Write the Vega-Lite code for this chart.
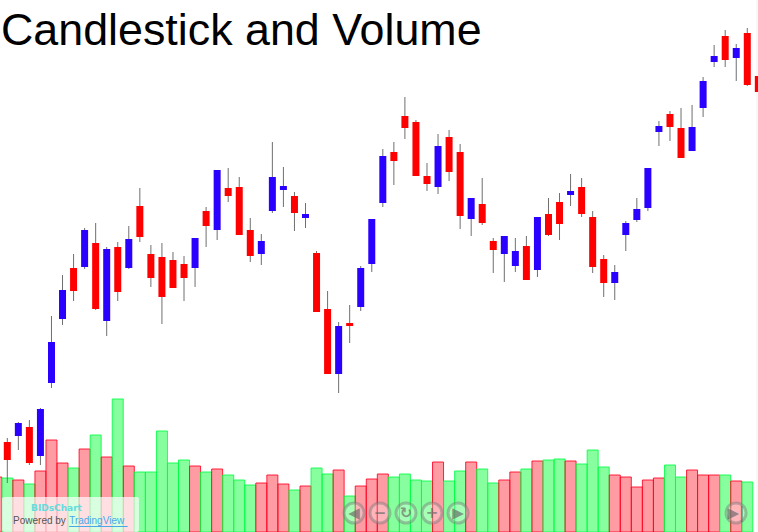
{"$schema":"https://vega.github.io/schema/vega-lite/v6.json","width":758,"height":532,"padding":0,"autosize":{"type":"none"},"background":"white","view":{"stroke":null},
"title":{"text":"Candlestick and Volume","anchor":"start","frame":"group","orient":"top","offset":0,"dx":1,"dy":90,"baseline":"alphabetic","font":"Liberation Sans","fontSize":44.8,"fontWeight":"normal","color":"#000000"},
"datasets":{
"candles":[
{"day":0,"high":94,"open":90,"close":72,"low":49,"dir":"down"},{"day":1,"high":110,"open":96,"close":109,"low":82,"dir":"up"},{"day":2,"high":112,"open":105,"close":69,"low":67,"dir":"down"},{"day":3,"high":124,"open":76,"close":123,"low":67,"dir":"up"},{"day":4,"high":216,"open":149,"close":190,"low":144,"dir":"up"},{"day":5,"high":257,"open":213,"close":242,"low":207,"dir":"up"},{"day":6,"high":278,"open":264,"close":241,"low":231,"dir":"down"},{"day":7,"high":304,"open":265,"close":302,"low":263,"dir":"up"},{"day":8,"high":309,"open":289,"close":223,"low":222,"dir":"down"},{"day":9,"high":285,"open":211,"close":283,"low":196,"dir":"up"},{"day":10,"high":290,"open":285,"close":240,"low":231,"dir":"down"},{"day":11,"high":306,"open":264,"close":293,"low":263,"dir":"up"},{"day":12,"high":344,"open":326,"close":295,"low":290,"dir":"down"},{"day":13,"high":287,"open":278,"close":254,"low":245,"dir":"down"},{"day":14,"high":289,"open":275,"close":235,"low":208,"dir":"down"},{"day":15,"high":280,"open":272,"close":244,"low":244,"dir":"down"},{"day":16,"high":276,"open":268,"close":254,"low":231,"dir":"down"},{"day":17,"high":294,"open":264,"close":294,"low":245,"dir":"up"},{"day":18,"high":325,"open":321,"close":306,"low":285,"dir":"down"},{"day":19,"high":362,"open":302,"close":362,"low":292,"dir":"up"},{"day":20,"high":364,"open":344,"close":336,"low":330,"dir":"down"},{"day":21,"high":355,"open":345,"close":297,"low":297,"dir":"down"},{"day":22,"high":314,"open":302,"close":276,"low":270,"dir":"down"},{"day":23,"high":298,"open":278,"close":291,"low":267,"dir":"up"},{"day":24,"high":390,"open":321,"close":355,"low":319,"dir":"up"},{"day":25,"high":365,"open":342,"close":346,"low":325,"dir":"up"},{"day":26,"high":340,"open":336,"close":319,"low":301,"dir":"down"},{"day":27,"high":329,"open":314,"close":318,"low":304,"dir":"up"},{"day":28,"high":281,"open":279,"close":220,"low":220,"dir":"down"},{"day":29,"high":241,"open":223,"close":158,"low":158,"dir":"down"},{"day":30,"high":210,"open":158,"close":206,"low":139,"dir":"up"},{"day":31,"high":227,"open":209,"close":206,"low":189,"dir":"down"},{"day":32,"high":266,"open":225,"close":264,"low":221,"dir":"up"},{"day":33,"high":313,"open":268,"close":313,"low":260,"dir":"up"},{"day":34,"high":383,"open":329,"close":376,"low":325,"dir":"up"},{"day":35,"high":390,"open":380,"close":371,"low":347,"dir":"down"},{"day":36,"high":435,"open":416,"close":404,"low":393,"dir":"down"},{"day":37,"high":412,"open":410,"close":356,"low":356,"dir":"down"},{"day":38,"high":369,"open":356,"close":348,"low":341,"dir":"down"},{"day":39,"high":398,"open":345,"close":386,"low":338,"dir":"up"},{"day":40,"high":402,"open":395,"close":360,"low":351,"dir":"down"},{"day":41,"high":388,"open":380,"close":316,"low":303,"dir":"down"},{"day":42,"high":334,"open":313,"close":334,"low":296,"dir":"up"},{"day":43,"high":354,"open":328,"close":309,"low":307,"dir":"down"},{"day":44,"high":294,"open":291,"close":282,"low":259,"dir":"down"},{"day":45,"high":296,"open":278,"close":296,"low":250,"dir":"up"},{"day":46,"high":294,"open":266,"close":281,"low":260,"dir":"up"},{"day":47,"high":296,"open":286,"close":252,"low":252,"dir":"down"},{"day":48,"high":315,"open":262,"close":315,"low":255,"dir":"up"},{"day":49,"high":334,"open":318,"close":297,"low":296,"dir":"down"},{"day":50,"high":339,"open":330,"close":308,"low":292,"dir":"down"},{"day":51,"high":358,"open":337,"close":341,"low":326,"dir":"up"},{"day":52,"high":354,"open":345,"close":318,"low":315,"dir":"down"},{"day":53,"high":321,"open":315,"close":265,"low":259,"dir":"down"},{"day":54,"high":277,"open":273,"close":249,"low":235,"dir":"down"},{"day":55,"high":267,"open":249,"close":260,"low":232,"dir":"up"},{"day":56,"high":311,"open":297,"close":309,"low":281,"dir":"up"},{"day":57,"high":334,"open":312,"close":323,"low":310,"dir":"up"},{"day":58,"high":364,"open":324,"close":364,"low":321,"dir":"up"},{"day":59,"high":411,"open":400,"close":406,"low":386,"dir":"up"},{"day":60,"high":421,"open":418,"close":405,"low":391,"dir":"down"},{"day":61,"high":424,"open":404,"close":374,"low":374,"dir":"down"},{"day":62,"high":427,"open":381,"close":405,"low":381,"dir":"up"},{"day":63,"high":455,"open":424,"close":451,"low":415,"dir":"up"},{"day":64,"high":487,"open":470,"close":476,"low":465,"dir":"up"},{"day":65,"high":502,"open":496,"close":472,"low":465,"dir":"down"},{"day":66,"high":488,"open":474,"close":484,"low":451,"dir":"up"},{"day":67,"high":504,"open":499,"close":447,"low":446,"dir":"down"},{"day":68,"high":456,"open":456,"close":440,"low":440,"dir":"down"}],
"volume":[
{"day":-1,"vol":55,"side":"sell"},{"day":0,"vol":54,"side":"buy"},{"day":1,"vol":52,"side":"sell"},{"day":2,"vol":48,"side":"buy"},{"day":3,"vol":61,"side":"sell"},{"day":4,"vol":92,"side":"sell"},{"day":5,"vol":69,"side":"sell"},{"day":6,"vol":64,"side":"buy"},{"day":7,"vol":83,"side":"sell"},{"day":8,"vol":97,"side":"buy"},{"day":9,"vol":75,"side":"sell"},{"day":10,"vol":133,"side":"buy"},{"day":11,"vol":66,"side":"sell"},{"day":12,"vol":60,"side":"buy"},{"day":13,"vol":60,"side":"buy"},{"day":14,"vol":101,"side":"buy"},{"day":15,"vol":69,"side":"buy"},{"day":16,"vol":72,"side":"buy"},{"day":17,"vol":66,"side":"sell"},{"day":18,"vol":60,"side":"buy"},{"day":19,"vol":63,"side":"sell"},{"day":20,"vol":57,"side":"buy"},{"day":21,"vol":52,"side":"buy"},{"day":22,"vol":47,"side":"buy"},{"day":23,"vol":49,"side":"sell"},{"day":24,"vol":57,"side":"sell"},{"day":25,"vol":48,"side":"sell"},{"day":26,"vol":42,"side":"buy"},{"day":27,"vol":46,"side":"sell"},{"day":28,"vol":64,"side":"buy"},{"day":29,"vol":58,"side":"buy"},{"day":30,"vol":62,"side":"sell"},{"day":31,"vol":36,"side":"buy"},{"day":32,"vol":46,"side":"sell"},{"day":33,"vol":53,"side":"sell"},{"day":34,"vol":58,"side":"sell"},{"day":35,"vol":55,"side":"buy"},{"day":36,"vol":58,"side":"buy"},{"day":37,"vol":52,"side":"buy"},{"day":38,"vol":51,"side":"buy"},{"day":39,"vol":70,"side":"sell"},{"day":40,"vol":51,"side":"buy"},{"day":41,"vol":61,"side":"buy"},{"day":42,"vol":70,"side":"sell"},{"day":43,"vol":63,"side":"buy"},{"day":44,"vol":49,"side":"buy"},{"day":45,"vol":52,"side":"sell"},{"day":46,"vol":60,"side":"sell"},{"day":47,"vol":63,"side":"buy"},{"day":48,"vol":71,"side":"sell"},{"day":49,"vol":72,"side":"buy"},{"day":50,"vol":73,"side":"buy"},{"day":51,"vol":71,"side":"sell"},{"day":52,"vol":68,"side":"buy"},{"day":53,"vol":82,"side":"buy"},{"day":54,"vol":65,"side":"buy"},{"day":55,"vol":57,"side":"sell"},{"day":56,"vol":55,"side":"sell"},{"day":57,"vol":45,"side":"sell"},{"day":58,"vol":52,"side":"sell"},{"day":59,"vol":54,"side":"sell"},{"day":60,"vol":67,"side":"buy"},{"day":61,"vol":55,"side":"buy"},{"day":62,"vol":62,"side":"sell"},{"day":63,"vol":57,"side":"sell"},{"day":64,"vol":57,"side":"sell"},{"day":65,"vol":57,"side":"buy"},{"day":66,"vol":51,"side":"sell"},{"day":67,"vol":50,"side":"buy"}],
"buttons":[{"day":31.39,"level":19,"glyph":"◀"},{"day":33.74,"level":19,"glyph":"−"},{"day":36.1,"level":19,"glyph":"↻"},{"day":38.45,"level":19,"glyph":"+"},{"day":40.81,"level":19,"glyph":"▶"},{"day":65.98,"level":19,"glyph":"▶|"}]
},
"encoding":{"x":{"type":"quantitative","scale":{"domain":[-0.661,67.97],"nice":false,"zero":false,"padding":0},"axis":null},"y":{"type":"quantitative","scale":{"domain":[0,532],"nice":false,"padding":0},"axis":null}},
"layer":[
{"data":{"values":[{"day":67.88,"from":0,"to":532}]},"mark":{"type":"rule","color":"#f1f1f1","strokeWidth":1},"encoding":{"x":{"field":"day"},"y":{"field":"from"},"y2":{"field":"to"}}},
{"data":{"name":"volume"},"mark":{"type":"bar","size":11,"strokeWidth":1,"fillOpacity":0.47,"strokeOpacity":0.85,"clip":true},"encoding":{"x":{"field":"day"},"y":{"field":"vol"},"fill":{"field":"side","type":"nominal","scale":{"domain":["buy","sell"],"range":["#00ff30","#ff2d3c"]},"legend":null},"stroke":{"field":"side","type":"nominal","scale":{"domain":["buy","sell"],"range":["#00ff44","#ff0022"]},"legend":null}}},
{"data":{"name":"candles"},"mark":{"type":"rule","color":"#6f6f6f","strokeWidth":1,"clip":true},"encoding":{"x":{"field":"day"},"y":{"field":"high"},"y2":{"field":"low"}}},
{"data":{"name":"candles"},"mark":{"type":"bar","size":7,"clip":true},"encoding":{"x":{"field":"day"},"y":{"field":"open"},"y2":{"field":"close"},"color":{"field":"dir","type":"nominal","scale":{"domain":["up","down"],"range":["#2a00ff","#ff0000"]},"legend":null}}},
{"data":{"values":[{"from":-0.48,"to":11.92,"bottom":0,"top":35}]},"mark":{"type":"rect","fill":"#ffffff","opacity":0.68,"cornerRadius":2},"encoding":{"x":{"field":"from"},"x2":{"field":"to"},"y":{"field":"bottom"},"y2":{"field":"top"}}},
{"data":{"values":[{"day":2.15,"level":24,"label":"BIDsChart"}]},"mark":{"type":"text","align":"left","baseline":"middle","font":"DejaVu Sans","fontSize":9,"fontWeight":"bold","fill":"#62dcdc"},"encoding":{"x":{"field":"day"},"y":{"field":"level"},"text":{"field":"label"}}},
{"data":{"values":[{"day":0.52,"level":11,"label":"Powered by"}]},"mark":{"type":"text","align":"left","baseline":"middle","font":"Liberation Sans","fontSize":10,"fill":"#555555"},"encoding":{"x":{"field":"day"},"y":{"field":"level"},"text":{"field":"label"}}},
{"data":{"values":[{"day":5.6,"level":11,"label":"TradingView"}]},"mark":{"type":"text","align":"left","baseline":"middle","font":"Liberation Sans","fontSize":10,"fill":"#4aa8e8"},"encoding":{"x":{"field":"day"},"y":{"field":"level"},"text":{"field":"label"}}},
{"data":{"values":[{"from":5.6,"to":10.9,"level":5.5}]},"mark":{"type":"rule","color":"#4aa8e8","strokeWidth":1},"encoding":{"x":{"field":"from"},"x2":{"field":"to"},"y":{"field":"level"}}},
{"data":{"name":"buttons"},"mark":{"type":"point","filled":false,"shape":"circle","size":400,"fill":"#ffffff","fillOpacity":0.25,"stroke":"#777777","strokeOpacity":0.45,"strokeWidth":3},"encoding":{"x":{"field":"day"},"y":{"field":"level"}}},
{"data":{"name":"buttons"},"mark":{"type":"text","align":"center","baseline":"middle","font":"DejaVu Sans","fontSize":15,"fontWeight":"bold","fill":"#666666","opacity":0.65},"encoding":{"x":{"field":"day"},"y":{"field":"level"},"text":{"field":"glyph"}}}
]}
